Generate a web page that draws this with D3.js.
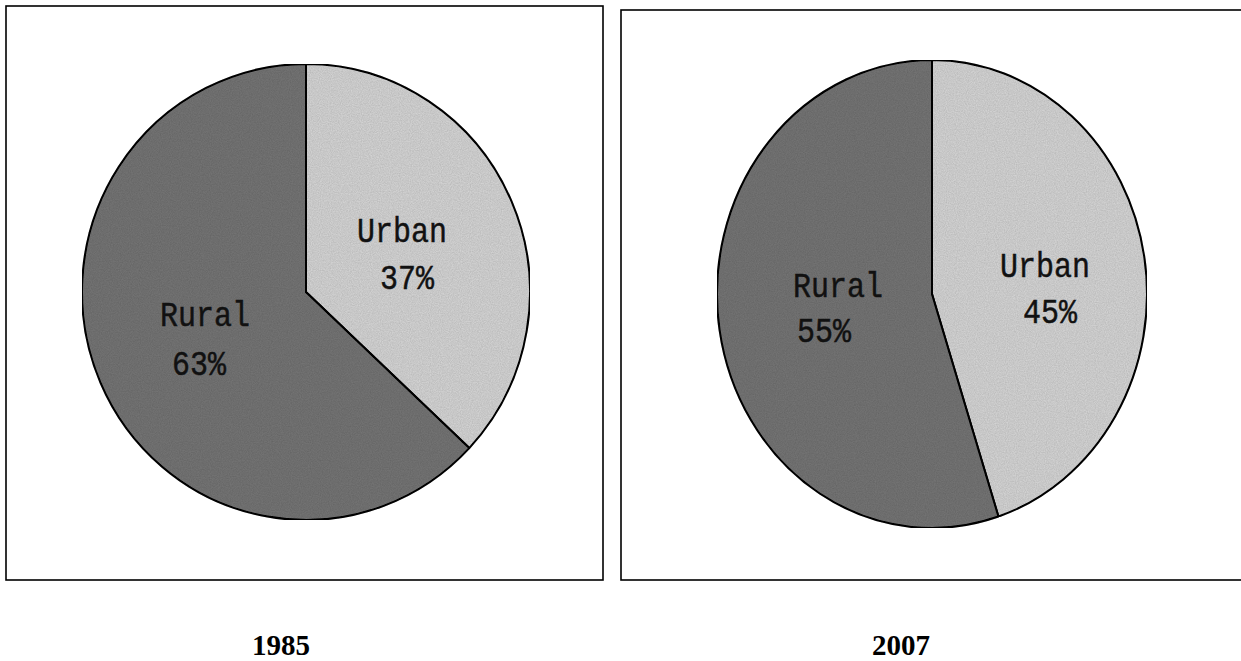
<!DOCTYPE html>
<html>
<head>
<meta charset="utf-8">
<script src="https://cdn.jsdelivr.net/npm/d3@7"></script>
<style>
  body { margin: 0; background: #fff; }
  svg { display: block; }
</style>
</head>
<body>
<svg id="chart" width="1241" height="661"></svg>
<script>
// values
const years = ["1985", "2007"];
const categories = ["Urban", "Rural"];
const shares1985 = [37, 63];
const shares2007 = [45, 55];

const svg = d3.select("#chart");

// fake print texture, the scan is dithered grey
const defs = svg.append("defs");
const grain = defs.append("filter").attr("id", "grain").attr("x", 0).attr("y", 0).attr("width", 1).attr("height", 1);
grain.append("feTurbulence").attr("type", "fractalNoise").attr("baseFrequency", "0.9").attr("numOctaves", 2).attr("seed", 3).attr("result", "noise");
grain.append("feColorMatrix").attr("in", "noise").attr("type", "matrix")
  .attr("values", "0 0 0 0 0  0 0 0 0 0  0 0 0 0 0  0 0 0 0.32 0").attr("result", "dots");
grain.append("feComposite").attr("in", "dots").attr("in2", "SourceGraphic").attr("operator", "in").attr("result", "dotsIn");
grain.append("feMerge").call((m) => {
  m.append("feMergeNode").attr("in", "SourceGraphic");
  m.append("feMergeNode").attr("in", "dotsIn");
});

const color = d3.scaleOrdinal().domain(categories).range(["#d8d8d8", "#777777"]);

// panel layout: frame box, ellipse centre and radii, label spots
const panels = [
  {
    year: years[0], values: shares1985,
    box: [6, 6, 597, 574], cx: 306, cy: 292, rx: 224, ry: 228, titleX: 281,
    labels: { Urban: [357, 242, 380, 289], Rural: [160, 326, 172, 375] },
  },
  {
    year: years[1], values: shares2007,
    box: [621, 10, 630, 570], cx: 932, cy: 294, rx: 215, ry: 234, titleX: 901,
    labels: { Urban: [1000, 277, 1023, 323], Rural: [793, 297, 797, 342] },
  },
];

const pie = d3.pie().sort(null).value((d) => d.value);

panels.forEach((p) => {
  const g = svg.append("g");

  g.append("rect")
    .attr("x", p.box[0]).attr("y", p.box[1])
    .attr("width", p.box[2]).attr("height", p.box[3])
    .attr("fill", "none").attr("stroke", "#000").attr("stroke-width", 1.6);

  const data = categories.map((c, i) => ({ name: c, value: p.values[i] }));
  const arc = d3.arc().innerRadius(0).outerRadius(p.rx);

  // circle squashed into the ellipse the scan shows
  const pieG = g.append("g")
    .attr("transform", `translate(${p.cx},${p.cy}) scale(1,${p.ry / p.rx})`);

  pieG.selectAll("path")
    .data(pie(data))
    .enter()
    .append("path")
    .attr("d", arc)
    .attr("fill", (d) => color(d.data.name))
    .attr("filter", "url(#grain)")
    .attr("stroke", "#000")
    .attr("stroke-width", 2)
    .attr("vector-effect", "non-scaling-stroke");

  // labels: narrow tall mono face in the scan, so stretch a bit
  data.forEach((d) => {
    const l = p.labels[d.name];
    const lines = [[l[0], l[1], d.name], [l[2], l[3], d.value + "%"]];
    lines.forEach((ln) => {
      g.append("text")
        .attr("transform", `translate(${ln[0]},${ln[1]}) scale(1,1.15)`)
        .style("font-family", "'Liberation Mono', 'DejaVu Sans Mono', monospace")
        .style("font-size", "30px")
        .attr("fill", "#111")
        .attr("stroke", "#111")
        .attr("stroke-width", 0.4)
        .text(ln[2]);
    });
  });

  g.append("text")
    .attr("x", p.titleX).attr("y", 655)
    .attr("text-anchor", "middle")
    .style("font-family", "'Liberation Serif', 'Times New Roman', serif")
    .style("font-weight", "bold")
    .style("font-size", "29px")
    .text(p.year);
});
</script>
</body>
</html>
